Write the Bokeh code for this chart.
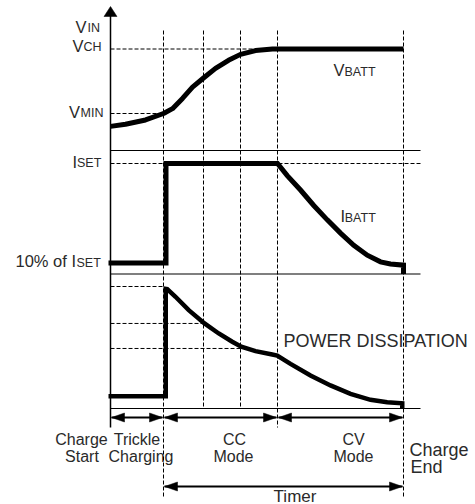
from bokeh.plotting import figure
from bokeh.models import Range1d
from bokeh.core.properties import value
from bokeh.embed import file_html
from bokeh.resources import INLINE

# ---------------- data (schematic charge profile) ----------------
# time axis in arbitrary units
phase_times = [21.2, 37.2, 52.0, 66.8, 117.2]      # vertical dashed markers
trickle_end = 21.2
cc_end = 66.8
charge_end = 117.2

# battery voltage (V)
v_min = 3.0
v_ch = 4.2
vbatt_t = [0, 6, 14, 21.2, 24.8, 28.8, 32.8, 37.2, 42, 47.2, 52, 58, 64.8, 117.2]
vbatt_v = [2.76, 2.80, 2.88, 3.00, 3.09, 3.28, 3.49, 3.66, 3.84, 3.99, 4.10, 4.17, 4.20, 4.20]

# battery current (fraction of I_SET)
i_set = 1.0
ibatt_t = [-0.8, 22.2, 22.2, 66.8, 70.7, 76, 81.3, 86.7, 92, 97.3, 102.7, 108, 112, 117.2, 117.2]
ibatt_i = [0.10, 0.10, 1.00, 1.00, 0.89, 0.76, 0.62, 0.49, 0.37, 0.26, 0.17, 0.11, 0.09, 0.08, 0.0]

# power dissipation (relative)
pdiss_t = [-0.8, 22.1, 22.1, 22.7, 26, 31.3, 37.6, 43.3, 48.7, 52.3, 58, 64.7, 66.7,
           72, 80, 88, 96, 104, 110.7, 116.7, 116.7]
pdiss_p = [0.10, 0.10, 0.98, 0.978, 0.916, 0.806, 0.697, 0.615, 0.547, 0.506, 0.470, 0.443, 0.434,
           0.366, 0.270, 0.189, 0.120, 0.071, 0.052, 0.043, 0.0]
pdiss_levels = [1.0, 0.697, 0.492]
pdiss_level_ends = [21.2, 37.2, 52.0]

phase_spans = [(0, trickle_end), (trickle_end, cc_end), (cc_end, charge_end)]
timer_span = (trickle_end, charge_end)

# ---------------- layout ----------------
W, H = 475, 504
PX_PER_T = 2.5
AXIS_PX = 110
FONT = value("Liberation Sans")
TXT = "#2a2a2a"
TEXT_SHIFT = 5.5

p = figure(width=W, height=H, output_backend="svg", toolbar_location=None,
           x_range=Range1d(-AXIS_PX / PX_PER_T, (W - AXIS_PX) / PX_PER_T),
           y_range=Range1d(0, H), min_border=0,
           x_axis_location=None, y_axis_location=None)
p.outline_line_color = None
p.xgrid.visible = False
p.ygrid.visible = False
p.background_fill_color = "white"
p.border_fill_color = "white"


def panel_range(v1, y1, v2, y2):
    s = (v2 - v1) / (y2 - y1)
    return Range1d(start=v1 - s * y1, end=v1 + s * (H - y1))


p.extra_y_ranges = {
    "volt": panel_range(v_min, 391, v_ch, 455.5),
    "amp": panel_range(0.0, 230.5, i_set, 341),
    "pow": panel_range(0.0, 96, 1.0, 218),
}


def label(x, y, s, size, align="left"):
    p.text(x=[x], y=[y + TEXT_SHIFT], text=[s], text_font=FONT, text_font_size=f"{size}px",
           text_align=align, text_baseline="alphabetic", text_color=TXT)


def sublabel(x, y, main, sub, sub_dx, size=16.5, sub_size=12.5, sub_dy=-1.3):
    label(x, y, main, size)
    label(x + sub_dx, y + sub_dy, sub, sub_size)


# ---------------- texts ----------------
sublabel(-14.0, 472.5, "V", "IN", 4.8)
sublabel(-15.2, 453, "V", "CH", 4.4)
sublabel(-16.6, 387, "V", "MIN", 4.6)
sublabel(-15.2, 337, "I", "SET", 1.8)
label(-38.0, 238, "10% of I", 16.5)
label(-13.6, 236.3, "SET", 12.5)
sublabel(89.2, 428.7, "V", "BATT", 4.4)
sublabel(92.0, 283, "I", "BATT", 1.7, sub_dy=-2.3)
label(69.2, 158, "POWER DISSIPATION", 18)

label(-11.6, 60, "Charge", 16, "center")
label(-11.4, 42.5, "Start", 16, "center")
label(10.6, 60, "Trickle", 16, "center")
label(12.2, 42.5, "Charging", 16, "center")
label(49.6, 60, "CC", 16, "center")
label(49.2, 42.5, "Mode", 16, "center")
label(97.2, 60, "CV", 16, "center")
label(97.2, 42.5, "Mode", 16, "center")
label(119.6, 49, "Charge", 18)
label(120.0, 32, "End", 18)
label(73.8, 3, "Timer", 17, "center")

# ---------------- grid / dashed guides ----------------
DASH = "4 2"
v_bottoms = [6, 96, 96, 77, 6]
for t, yb in zip(phase_times, v_bottoms):
    p.line([t, t], [474, yb], line_color="black", line_width=1, line_dash=DASH)

p.line([0, cc_end], [v_ch, v_ch], y_range_name="volt", line_color="black", line_width=1, line_dash=DASH)
p.line([0, trickle_end], [v_min, v_min], y_range_name="volt", line_color="black", line_width=1, line_dash=DASH)
p.line([0, 124], [i_set, i_set], y_range_name="amp", line_color="black", line_width=1, line_dash=DASH)
for lev, te in zip(pdiss_levels, pdiss_level_ends):
    p.line([0, te], [lev, lev], y_range_name="pow", line_color="black", line_width=1, line_dash=DASH)

# panel separators
for ysep in [354, 230.5, 96]:
    p.line([0, 124], [ysep, ysep], line_color="black", line_width=1.2)

# vertical axis with arrow
p.line([0, 0], [77, 489], line_color="black", line_width=1.5)
p.patch([-2.6, 2.6, 0], [488, 488, 498], fill_color="black", line_color="black", line_width=0.5)

# ---------------- curves ----------------
p.line(vbatt_t, vbatt_v, y_range_name="volt", line_color="black", line_width=5,
       line_join="round", line_cap="butt")
p.line(ibatt_t, ibatt_i, y_range_name="amp", line_color="black", line_width=5,
       line_join="miter", line_cap="butt")
p.line(pdiss_t, pdiss_p, y_range_name="pow", line_color="black", line_width=4.5,
       line_join="miter", line_cap="butt")


# ---------------- phase arrows ----------------
def head(tip, y, direction, length=13, half_w=4.5):
    L = length / PX_PER_T
    p.patch([tip, tip - direction * L, tip - direction * L], [y, y + half_w, y - half_w],
            fill_color="black", line_color="black", line_width=0.5)


def double_arrow(a, b, y):
    p.line([a + 0.4, b - 0.4], [y, y], line_color="black", line_width=2)
    head(a + 0.4, y, -1)
    head(b - 0.4, y, 1)


for a, b in phase_spans:
    double_arrow(a, b, 87)
double_arrow(timer_span[0], timer_span[1], 18)

open("out.html", "w").write(file_html(p, INLINE))
